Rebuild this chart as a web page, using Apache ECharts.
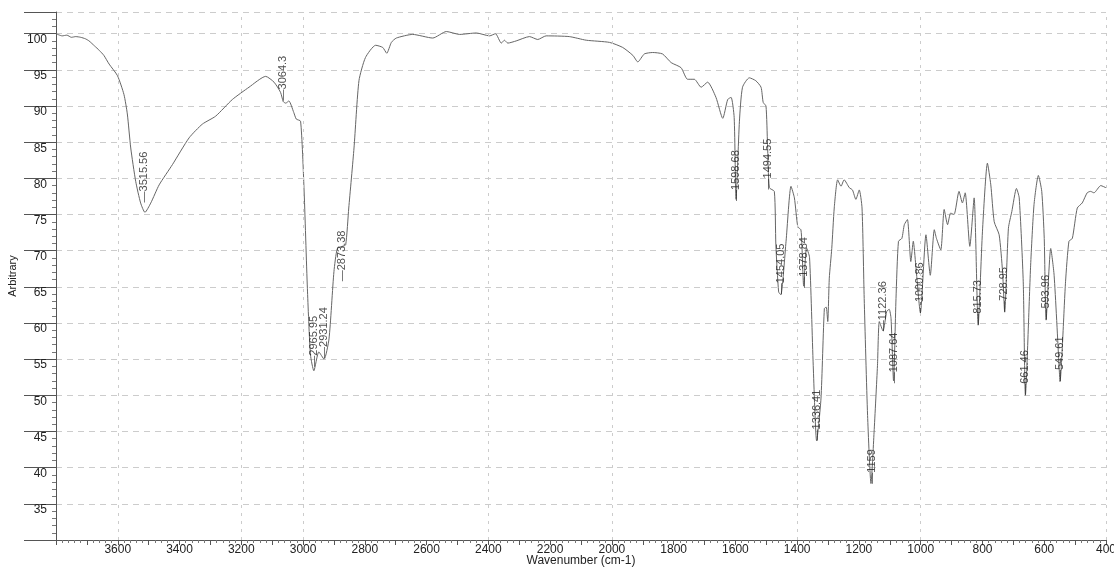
<!DOCTYPE html>
<html>
<head>
<meta charset="utf-8">
<script src="https://cdn.jsdelivr.net/npm/echarts@6/dist/echarts.min.js"></script>
<style>
  html, body { margin: 0; padding: 0; background: #fff; }
  #chart { width: 1114px; height: 569px; }
</style>
</head>
<body>
<div id="chart"></div>
<script>
// spectrum (wavenumber in cm-1, arbitrary units)
var wavenumber = [3800, 3780, 3765, 3750, 3736, 3720, 3705, 3693, 3675, 3660, 3645, 3628, 3601, 3580, 3569, 3558, 3542, 3526, 3512, 3493,
  3466, 3423, 3369, 3326, 3283, 3229, 3175, 3121, 3094, 3073, 3064, 3056, 3046, 3030, 3022, 3008, 2997, 2986, 2976, 2965,
  2949, 2932, 2916, 2900, 2889, 2873, 2862, 2852, 2835, 2819, 2798, 2765, 2742, 2729, 2714, 2698, 2645, 2580, 2536, 2493,
  2439, 2396, 2377, 2358, 2348, 2337, 2310, 2267, 2240, 2213, 2138, 2083, 2008, 1965, 1932, 1916, 1895, 1868, 1836, 1808,
  1776, 1755, 1733, 1711, 1690, 1663, 1641, 1625, 1614, 1604, 1598, 1587, 1577, 1555, 1534, 1517, 1510, 1501, 1496, 1490,
  1474, 1469, 1460, 1453, 1436, 1420, 1409, 1398, 1388, 1385, 1379, 1370, 1360, 1348, 1337, 1323, 1312, 1306, 1301, 1296,
  1288, 1280, 1269, 1258, 1248, 1231, 1221, 1210, 1199, 1190, 1183, 1172, 1161, 1151, 1140, 1134, 1122, 1110, 1102, 1096,
  1088, 1080, 1072, 1061, 1053, 1043, 1032, 1024, 1016, 1001, 983, 969, 956, 949, 935, 924, 913, 903, 892, 876,
  865, 856, 841, 827, 814, 800, 784, 773, 762, 746, 735, 728, 716, 705, 690, 681, 668, 661, 644, 633,
  619, 608, 600, 594, 579, 568, 552, 549, 531, 520, 509, 493, 477, 461, 450, 439, 417, 400];

var signal = [100.0, 99.7, 99.8, 99.5, 99.6, 99.5, 99.3, 99.0, 98.3, 97.7, 97.0, 95.8, 94.2, 91.6, 88.9, 84.2, 79.6, 76.6, 75.3, 76.6,
  79.1, 81.9, 85.6, 87.5, 88.6, 90.9, 92.6, 94.1, 93.3, 91.9, 90.6, 90.4, 90.7, 89.1, 88.2, 87.9, 78.7, 64.8, 55.6, 53.4,
  56.0, 55.0, 57.8, 67.1, 70.3, 70.6, 70.8, 75.9, 84.2, 93.5, 96.7, 98.4, 98.1, 97.3, 98.8, 99.4, 99.9, 99.4, 100.3, 99.9,
  100.1, 99.7, 100.0, 98.7, 99.1, 98.7, 99.0, 99.6, 99.2, 99.7, 99.6, 99.1, 98.8, 98.1, 97.0, 96.1, 97.2, 97.4, 97.2, 96.0,
  95.3, 93.7, 93.7, 92.6, 93.3, 91.2, 88.3, 90.9, 91.2, 88.4, 77.1, 87.9, 92.6, 93.9, 93.5, 92.6, 90.5, 90.0, 84.7, 78.7,
  78.2, 70.8, 64.3, 63.9, 71.3, 78.9, 77.3, 73.3, 72.9, 71.1, 65.1, 70.4, 69.1, 54.1, 43.7, 49.5, 62.0, 62.2, 60.2, 66.2,
  70.3, 75.9, 79.8, 78.9, 79.8, 78.7, 78.4, 77.1, 78.4, 75.9, 63.4, 47.2, 37.8, 44.9, 54.1, 60.2, 58.9, 61.6, 61.9, 60.6,
  52.0, 63.4, 71.3, 71.7, 73.6, 74.3, 68.5, 71.3, 68.0, 61.4, 72.2, 66.6, 72.9, 71.7, 70.1, 75.7, 73.6, 75.2, 75.0, 78.2,
  76.6, 78.0, 70.6, 77.3, 59.7, 72.7, 82.1, 79.1, 74.0, 72.2, 67.1, 61.5, 73.1, 75.4, 78.6, 77.3, 65.7, 50.0, 68.0, 76.4,
  80.4, 78.2, 71.7, 60.4, 70.3, 66.6, 54.1, 51.9, 65.7, 71.3, 71.7, 75.9, 76.6, 78.0, 78.2, 78.0, 79.0, 78.7];

// peak labels and where their markers sit
var peakWavenumber = [3515.56, 3064.3, 2965.95, 2931.24, 2873.38, 1598.68, 1494.55, 1454.05, 1378.84, 1336.41,
  1159, 1122.36, 1087.64, 1000.86, 815.73, 728.95, 661.46, 593.96, 549.61];
var peakMarkY = [76.6, 90.7, 53.9, 55.1, 65.7, 76.8, 78.4, 63.9, 64.8, 43.7,
  37.7, 58.8, 51.6, 61.3, 59.7, 61.5, 50.0, 60.4, 51.9];

// dashed vertical grid lines as they appear on the print
var gridWavenumber = [3600, 3200, 3000, 2400, 2000, 1400, 1000, 400];

function buildOption() {
  var line = [];
  for (var i = 0; i < wavenumber.length; i++) line.push([wavenumber[i], signal[i]]);
  var peaks = [];
  for (var j = 0; j < peakWavenumber.length; j++) peaks.push([peakWavenumber[j], peakMarkY[j], String(peakWavenumber[j])]);

  return {
    animation: false,
    backgroundColor: '#fff',
    textStyle: { fontFamily: 'Liberation Sans, Arial, sans-serif' },
    grid: { left: 56, right: 8, top: 12, bottom: 29, containLabel: false, outerBoundsMode: 'none' },
    xAxis: {
      type: 'value',
      inverse: true,
      min: 400,
      max: 3800,
      interval: 100,
      name: 'Wavenumber (cm-1)',
      nameLocation: 'middle',
      nameGap: 15,
      nameMoveOverlap: false,
      nameTextStyle: { fontSize: 12, color: '#222' },
      axisLine: { show: true, lineStyle: { color: '#555', width: 1 } },
      axisTick: { show: true, length: 5, lineStyle: { color: '#555' } },
      minorTick: { show: true, splitNumber: 5, length: 3, lineStyle: { color: '#777' } },
      axisLabel: {
        fontSize: 12, color: '#222', margin: 4,
        formatter: function (v) { return (v % 200 === 0 && v < 3800) ? String(v) : ''; }
      },
      splitLine: { show: false }
    },
    yAxis: {
      type: 'value',
      min: 30,
      max: 103,
      interval: 5,
      name: 'Arbitrary',
      nameLocation: 'middle',
      nameGap: 38,
      nameMoveOverlap: false,
      nameTextStyle: { fontSize: 11, color: '#222' },
      axisLine: { show: true, lineStyle: { color: '#555', width: 1 } },
      axisTick: { show: true, length: 32, lineStyle: { color: '#555' } },
      minorTick: { show: true, splitNumber: 5, length: 4, lineStyle: { color: '#777' } },
      axisLabel: {
        fontSize: 12, color: '#222', margin: 9, verticalAlign: 'top',
        showMinLabel: false, showMaxLabel: false
      },
      splitLine: { show: true, lineStyle: { color: '#cccccc', type: [6, 5], width: 1 } }
    },
    series: [
      {
        type: 'line',
        data: line,
        showSymbol: false,
        smooth: 0.2,
        lineStyle: { color: '#666', width: 1 },
        markLine: {
          silent: true,
          symbol: 'none',
          label: { show: false },
          lineStyle: { color: '#cccccc', type: [3, 5], width: 1 },
          data: gridWavenumber.map(function (w) { return { xAxis: w }; })
        },
        z: 3
      },
      {
        type: 'scatter',
        data: peaks,
        symbolSize: 1,
        itemStyle: { color: 'rgba(0,0,0,0)' },
        label: {
          show: true,
          position: 'top',
          distance: 0,
          rotate: 90,
          align: 'left',
          verticalAlign: 'middle',
          fontSize: 11,
          color: '#222',
          formatter: function (p) { return '\u2014' + p.value[2]; }
        },
        z: 4
      }
    ]
  };
}

var myChart = echarts.init(document.getElementById('chart'));
myChart.setOption(buildOption());
window.addEventListener('resize', function () { myChart.resize(); });
</script>
</body>
</html>
